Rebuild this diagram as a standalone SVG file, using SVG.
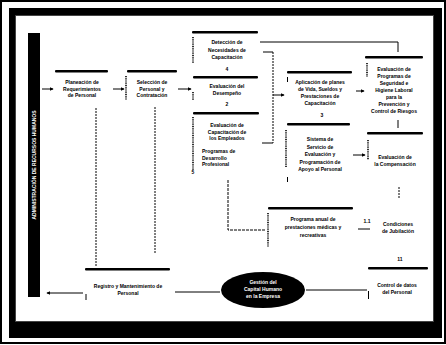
<svg xmlns="http://www.w3.org/2000/svg" width="446" height="345" viewBox="0 0 446 345">
  <style>
    .t { font-family: "Liberation Sans", Arial, sans-serif; font-size: 5px; font-weight: bold; fill: #000; text-anchor: middle; }
    .tl { text-anchor: start; }
    .n { font-family: "Liberation Sans", Arial, sans-serif; font-size: 5px; font-weight: bold; fill: #000; text-anchor: middle; }
    .bar { fill: #000; }
    .dot { stroke: #000; stroke-width: 1.6; stroke-dasharray: 1 0.8; fill: none; }
    .ln { stroke: #000; stroke-width: 1; fill: none; }
    .vd { stroke: #000; stroke-width: 1; stroke-dasharray: 2 1; fill: none; }
    .w { font-family: "Liberation Sans", Arial, sans-serif; font-size: 5px; font-weight: bold; fill: #fff; text-anchor: middle; }
  </style>
  <defs>
    <marker id="arr" viewBox="0 0 6 6" refX="5" refY="3" markerWidth="4" markerHeight="4" orient="auto">
      <path d="M0,0 L6,3 L0,6 z" fill="#000"/>
    </marker>
  </defs>

  <!-- page and frame -->
  <rect x="0" y="0" width="446" height="345" fill="#fff"/>
  <rect x="1" y="1" width="444" height="342" fill="none" stroke="#000" stroke-width="2"/>
  <path d="M9,8 H442 V338 H9 Z M15,15 V322 H434 V15 Z" fill="#000" fill-rule="evenodd"/>
  <rect x="15.5" y="15.5" width="418" height="306" fill="none" stroke="#444" stroke-width="1"/>

  <!-- side title band -->
  <g id="side-band">
    <rect x="28" y="33" width="12" height="264" fill="#000"/>
    <text class="w" transform="translate(35.5,165) rotate(-90)" font-size="6">ADMINISTRACIÓN DE RECURSOS HUMANOS</text>
  </g>

  <!-- connectors -->
  <g id="connectors">
    <!-- entry into first step -->
    <line class="ln" x1="42" y1="89" x2="53" y2="89" marker-end="url(#arr)"/>
    <line class="ln" x1="113" y1="89" x2="124" y2="89" marker-end="url(#arr)"/>
    <line class="ln" x1="178" y1="89" x2="191" y2="89" marker-end="url(#arr)"/>
    <!-- top link to right column -->
    <polyline class="ln" points="260,42 398,42 398,52" stroke-width="1.3"/>
    <!-- bracket collecting center column -->
    <line class="ln" x1="263" y1="52" x2="273" y2="52"/>
    <line class="vd" x1="273" y1="52" x2="273" y2="143"/>
    <line class="ln" x1="262" y1="143" x2="273" y2="143"/>
    <line class="ln" x1="273" y1="95" x2="284" y2="95" marker-end="url(#arr)"/>
    <!-- right column arrows -->
    <line class="ln" x1="356" y1="91" x2="364" y2="91" marker-end="url(#arr)"/>
    <line class="ln" x1="353" y1="155" x2="365" y2="155" marker-end="url(#arr)"/>
    <line class="ln" x1="398" y1="120" x2="398" y2="128"/>
    <line class="vd" x1="399" y1="187" x2="399" y2="199"/>
    <!-- center column down to annual programme -->
    <polyline class="ln" points="228,180 228,230 266,230" stroke-dasharray="3 1"/>
    <line class="ln" x1="358" y1="229" x2="370" y2="229"/>
    <!-- long verticals to the bottom row -->
    <line class="vd" x1="96" y1="108" x2="96" y2="266"/>
    <line class="vd" x1="155" y1="107" x2="155" y2="253"/>
    <!-- bottom row -->
    <line class="ln" x1="83" y1="293" x2="47" y2="293" marker-end="url(#arr)"/>
    <line class="ln" x1="175" y1="292" x2="220" y2="292" stroke-width="1.2"/>
    <line class="ln" x1="306" y1="290" x2="367" y2="290" stroke-width="1.2"/>
  </g>

  <!-- step 1 -->
  <g id="n-planeacion">
    <rect class="bar" x="55" y="70" width="53" height="2.5" rx="1"/>
    <text class="t" x="82" y="84">Planeación de</text>
    <text class="t" x="82" y="90.5">Requerimientos</text>
    <text class="t" x="82" y="97">de Personal</text>
  </g>

  <!-- step 2 -->
  <g id="n-seleccion">
    <rect class="bar" x="127" y="70" width="50" height="2.5" rx="1"/>
    <line class="dot" x1="126" y1="76" x2="126" y2="100"/>
    <text class="t" x="152" y="84">Selección de</text>
    <text class="t" x="152" y="90.5">Personal y</text>
    <text class="t" x="152" y="97">Contratación</text>
  </g>

  <!-- training needs -->
  <g id="n-deteccion">
    <rect class="bar" x="192" y="31" width="66" height="2.5" rx="1"/>
    <line class="dot" x1="193" y1="37" x2="193" y2="63"/>
    <text class="t" x="227" y="44">Detección de</text>
    <text class="t" x="227" y="51.5">Necesidades de</text>
    <text class="t" x="227" y="59">Capacitación</text>
    <text class="n" x="227" y="70.5">4</text>
  </g>

  <!-- performance -->
  <g id="n-desempeno">
    <rect class="bar" x="193" y="76" width="65" height="2.5" rx="1"/>
    <line class="dot" x1="193" y1="92" x2="193" y2="100"/>
    <text class="t" x="227" y="88">Evaluación del</text>
    <text class="t" x="227" y="95">Desempeño</text>
    <text class="n" x="227" y="106">2</text>
  </g>

  <!-- training evaluation and development -->
  <g id="n-desarrollo">
    <rect class="bar" x="193" y="112" width="66" height="2.5" rx="1"/>
    <line class="dot" x1="193" y1="117" x2="193" y2="170"/>
    <text class="t" x="227" y="127">Evaluación de</text>
    <text class="t" x="227" y="133.5">Capacitación de</text>
    <text class="t" x="227" y="140">los Empleados</text>
    <text class="t tl" x="202" y="153">Programas de</text>
    <text class="t tl" x="202" y="159.5">Desarrollo</text>
    <text class="t tl" x="202" y="166">Profesional</text>
    <text class="n" x="193" y="174">5</text>
  </g>

  <!-- compensation plans -->
  <g id="n-aplicacion">
    <rect class="bar" x="287" y="71" width="65" height="2.5" rx="1"/>
    <line class="ln" x1="287.5" y1="77" x2="287.5" y2="82"/>
    <text class="t" x="320" y="84">Aplicación de planes</text>
    <text class="t" x="320" y="91">de Vida, Sueldos y</text>
    <text class="t" x="320" y="98">Prestaciones de</text>
    <text class="t" x="320" y="105">Capacitación</text>
    <text class="n" x="322" y="117">3</text>
  </g>

  <!-- support system -->
  <g id="n-sistema">
    <rect class="bar" x="287" y="123" width="63" height="2.5" rx="1"/>
    <line class="dot" x1="286" y1="130" x2="286" y2="167"/>
    <text class="t" x="320" y="141">Sistema de</text>
    <text class="t" x="320" y="148.5">Servicio de</text>
    <text class="t" x="320" y="156">Evaluación y</text>
    <text class="t" x="320" y="163.5">Programación de</text>
    <text class="t" x="320" y="171">Apoyo al Personal</text>
    <line class="ln" x1="287.5" y1="177" x2="287.5" y2="182"/>
  </g>

  <!-- safety programmes -->
  <g id="n-seguridad">
    <rect class="bar" x="365" y="56" width="58" height="2.5" rx="1"/>
    <line class="dot" x1="367" y1="63" x2="367" y2="77"/>
    <text class="t" x="394" y="70.5">Evaluación de</text>
    <text class="t" x="394" y="77.5">Programas de</text>
    <text class="t" x="394" y="84.5">Seguridad e</text>
    <text class="t" x="394" y="91.5">Higiene Laboral</text>
    <text class="t" x="394" y="98.5">para la</text>
    <text class="t" x="394" y="105.5">Prevención y</text>
    <text class="t" x="394" y="112.5">Control de Riesgos</text>
  </g>

  <!-- compensation evaluation -->
  <g id="n-compensacion">
    <rect class="bar" x="367" y="132" width="56" height="2.5" rx="1"/>
    <line class="dot" x1="368" y1="140" x2="368" y2="160"/>
    <text class="t" x="395" y="158.5">Evaluación de</text>
    <text class="t" x="395" y="165.5">la Compensación</text>
  </g>

  <!-- annual benefits programme -->
  <g id="n-prestaciones">
    <rect class="bar" x="268" y="207" width="85" height="2.5" rx="1"/>
    <line class="dot" x1="268" y1="213" x2="268" y2="247"/>
    <text class="t" x="313" y="221">Programa anual de</text>
    <text class="t" x="313" y="229">prestaciones médicas y</text>
    <text class="t" x="313" y="237">recreativas</text>
  </g>

  <!-- retirement -->
  <g id="n-jubilacion">
    <text class="n" x="367" y="223">1.1</text>
    <text class="t" x="398" y="226">Condiciones</text>
    <text class="t" x="398" y="233">de Jubilación</text>
  </g>

  <!-- personnel records -->
  <g id="n-registro">
    <rect class="bar" x="85" y="268" width="85" height="2.5" rx="1"/>
    <text class="t" x="128" y="288">Registro y Mantenimiento de</text>
    <text class="t" x="128" y="295">Personal</text>
    <line class="ln" x1="86" y1="294" x2="86" y2="300"/>
  </g>

  <!-- central ellipse -->
  <g id="n-capital">
    <ellipse cx="263" cy="290" rx="42" ry="18" fill="#000"/>
    <text class="w" x="263" y="284">Gestión del</text>
    <text class="w" x="263" y="291" font-size="6">Capital Humano</text>
    <text class="w" x="263" y="298">en la Empresa</text>
  </g>

  <!-- data control -->
  <g id="n-control">
    <text class="n" x="400" y="261">11</text>
    <rect class="bar" x="368" y="267" width="60" height="2.5" rx="1"/>
    <text class="t" x="397" y="287">Control de datos</text>
    <text class="t" x="397" y="294">del Personal</text>
    <line class="ln" x1="368.5" y1="291" x2="368.5" y2="299"/>
  </g>
</svg>
